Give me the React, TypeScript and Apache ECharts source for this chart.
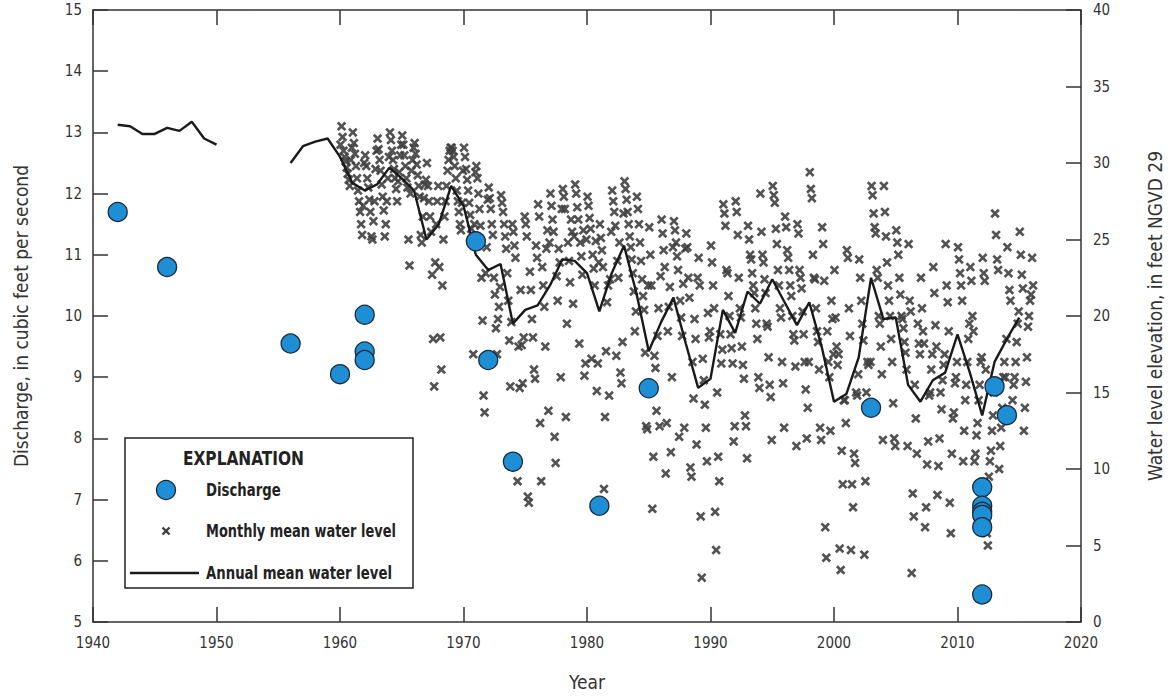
import React, { useEffect, useRef } from "react";
import * as echarts from "echarts";

// ---------- Data ----------
// Discharge measurements (cubic feet per second), left axis
const dischargeYears = [1942, 1946, 1956, 1960, 1962, 1962, 1962, 1971, 1972, 1974, 1981, 1985, 2003, 2012, 2012, 2012, 2012, 2012, 2012, 2013, 2014];
const dischargeValues = [11.7, 10.8, 9.55, 9.05, 10.02, 9.42, 9.28, 11.22, 9.28, 7.62, 6.9, 8.82, 8.5, 7.2, 6.9, 6.8, 6.75, 6.55, 5.45, 8.85, 8.38];

// Annual mean water level (feet NGVD 29), right axis
const annualYearsEarly = [1942, 1943, 1944, 1945, 1946, 1947, 1948, 1949, 1950];
const annualLevelsEarly = [32.5, 32.4, 31.9, 31.9, 32.3, 32.1, 32.7, 31.6, 31.2];
const annualYearsLate = [
  1956, 1957, 1958, 1959, 1960, 1961, 1962, 1963, 1964, 1965, 1966, 1967, 1968, 1969,
  1970, 1971, 1972, 1973, 1974, 1975, 1976, 1977, 1978, 1979, 1980, 1981, 1982, 1983,
  1984, 1985, 1986, 1987, 1988, 1989, 1990, 1991, 1992, 1993, 1994, 1995, 1996, 1997,
  1998, 1999, 2000, 2001, 2002, 2003, 2004, 2005, 2006, 2007, 2008, 2009, 2010, 2011,
  2012, 2013, 2014, 2015,
];
const annualLevelsLate = [
  30.0, 31.1, 31.4, 31.6, 30.4, 28.7, 28.2, 28.6, 29.7, 29.0, 28.2, 25.0, 26.0, 28.5,
  27.2, 24.0, 23.0, 23.4, 19.5, 20.4, 20.7, 22.0, 23.7, 23.6, 22.8, 20.3, 22.8, 24.6,
  21.5, 17.7, 19.6, 21.2, 18.2, 15.3, 15.9, 20.4, 18.9, 21.6, 20.8, 22.4, 20.9, 19.4,
  20.9, 18.0, 14.4, 14.9, 17.3, 22.5, 19.8, 19.9, 15.5, 14.4, 15.8, 16.3, 18.8, 16.3,
  13.5, 17.0, 18.5, 19.9,
];

// Monthly mean water level (feet NGVD 29), one row per year, Jan..Dec
const monthly1960s = [
  [31.2, 32.4, 31.7, 30.8, 30.4, 30.1, 29.7, 29.3, 28.9, 28.5, 30.2, 31.0],
  [32.0, 31.3, 30.6, 29.8, 29.0, 28.2, 27.5, 26.8, 26.0, 25.3, 27.2, 30.0],
  [30.5, 29.8, 29.0, 28.4, 27.6, 26.8, 25.2, 25.0, 26.2, 27.5, 29.6, 30.8],
  [31.6, 30.9, 30.2, 29.5, 28.6, 27.8, 26.9, 25.2, 26.0, 27.5, 29.0, 30.4],
  [32.0, 31.5, 30.8, 30.2, 29.6, 29.0, 28.3, 27.5, 28.8, 29.4, 30.5, 31.2],
  [31.8, 31.2, 30.5, 29.8, 29.0, 28.4, 25.0, 23.3, 28.0, 29.5, 30.2, 31.0],
  [31.3, 30.6, 29.9, 29.2, 28.5, 27.8, 25.3, 24.8, 26.5, 27.7, 28.6, 28.9],
  [30.0, 28.5, 27.5, 26.5, 25.5, 22.7, 18.5, 15.4, 23.5, 26.0, 27.5, 28.5],
  [23.2, 18.6, 16.5, 22.0, 25.0, 26.5, 27.5, 28.5, 29.5, 30.2, 30.8, 31.0],
  [31.0, 30.8, 30.4, 29.8, 29.0, 28.2, 27.5, 26.8, 26.0, 25.6, 27.4, 29.5],
];
const monthly1970s = [
  [31.0, 30.4, 29.6, 28.9, 28.2, 27.4, 26.6, 25.7, 24.9, 17.5, 26.0, 29.4],
  [29.8, 29.0, 28.0, 27.0, 25.9, 22.5, 19.7, 14.8, 13.7, 22.8, 24.5, 27.6],
  [28.4, 27.7, 27.0, 26.0, 25.3, 22.5, 21.4, 19.2, 17.5, 19.8, 20.6, 21.9],
  [27.9, 27.4, 26.8, 26.0, 25.2, 24.4, 22.8, 21.0, 18.4, 15.4, 19.6, 26.0],
  [25.5, 24.6, 23.8, 10.4, 9.2, 18.0, 15.3, 21.7, 18.1, 15.6, 18.6, 26.5],
  [26.0, 25.2, 8.2, 7.8, 22.9, 21.7, 19.8, 18.6, 16.5, 15.9, 24.6, 23.8],
  [27.3, 26.5, 13.0, 9.2, 23.2, 22.0, 20.6, 18.0, 24.4, 25.6, 13.8, 24.8],
  [28.0, 27.2, 26.3, 25.5, 12.1, 10.4, 22.6, 21.0, 24.4, 23.5, 16.0, 27.0],
  [28.3, 27.8, 27.0, 13.4, 19.5, 24.8, 23.6, 22.2, 26.3, 25.5, 20.8, 25.2],
  [28.6, 28.0, 27.1, 26.3, 18.2, 24.8, 23.9, 22.7, 25.6, 16.1, 16.9, 25.0],
];
const monthly1980s = [
  [27.8, 27.2, 26.4, 25.7, 17.2, 24.0, 23.1, 22.0, 24.9, 15.1, 16.9, 23.5],
  [26.0, 25.1, 24.3, 23.2, 8.7, 13.4, 17.7, 20.9, 22.0, 14.8, 22.4, 25.5],
  [28.2, 27.5, 26.8, 25.9, 17.4, 23.6, 22.5, 24.8, 16.3, 15.6, 18.3, 26.7],
  [28.8, 28.3, 27.6, 26.8, 26.0, 25.2, 24.5, 23.7, 22.8, 21.6, 19.0, 20.3],
  [27.8, 27.0, 26.0, 24.8, 23.6, 22.4, 21.3, 20.4, 17.6, 12.8, 12.6, 22.0],
  [25.8, 24.0, 22.0, 7.4, 10.8, 17.4, 16.6, 13.8, 18.7, 20.5, 12.8, 22.6],
  [26.3, 25.4, 24.3, 23.2, 9.7, 13.0, 19.0, 20.6, 21.9, 11.1, 16.0, 24.5],
  [26.2, 25.6, 24.8, 23.9, 23.0, 12.1, 21.0, 19.9, 18.7, 22.1, 12.7, 24.4],
  [25.4, 24.5, 22.5, 21.2, 10.1, 9.5, 17.0, 14.6, 19.8, 18.5, 11.6, 22.5],
  [23.8, 22.0, 6.9, 2.9, 17.2, 15.8, 14.2, 12.7, 10.5, 20.2, 18.6, 19.0],
];
const monthly1990s = [
  [24.6, 23.5, 22.0, 20.5, 7.2, 4.7, 15.0, 10.8, 9.2, 18.8, 16.9, 17.8],
  [27.3, 26.7, 25.9, 23.0, 22.8, 21.3, 20.0, 18.8, 17.9, 16.9, 11.8, 12.8],
  [27.5, 26.8, 25.3, 22.5, 20.5, 19.9, 18.0, 16.8, 15.9, 13.5, 12.8, 10.7],
  [25.9, 25.0, 24.0, 23.7, 22.8, 22.0, 21.5, 20.5, 19.5, 18.5, 16.0, 15.3],
  [28.0, 25.5, 24.0, 23.5, 22.4, 21.5, 19.5, 19.3, 17.3, 15.5, 14.7, 11.9],
  [28.5, 27.9, 27.4, 25.7, 24.7, 23.0, 22.0, 20.5, 19.9, 17.0, 15.6, 12.7],
  [26.5, 25.8, 24.3, 23.8, 23.0, 22.0, 21.3, 20.0, 18.8, 18.4, 16.7, 11.5],
  [26.0, 25.4, 23.0, 22.5, 21.8, 20.3, 18.8, 17.0, 15.2, 12.0, 14.0, 17.0],
  [29.4, 28.3, 27.7, 24.0, 22.5, 22.4, 20.5, 19.0, 18.3, 16.5, 12.7, 11.9],
  [25.8, 24.7, 22.3, 6.2, 4.2, 19.0, 17.0, 16.0, 12.5, 21.0, 19.8, 17.5],
];
const monthly2000s = [
  [23.0, 19.9, 18.0, 16.8, 17.5, 4.8, 3.4, 11.2, 9.0, 14.5, 14.5, 13.0],
  [24.3, 23.8, 20.5, 18.7, 4.7, 9.0, 7.5, 11.0, 10.4, 15.0, 14.8, 16.2],
  [23.7, 22.5, 21.0, 19.5, 18.4, 4.4, 9.2, 15.0, 17.0, 16.8, 14.0, 17.0],
  [28.5, 27.9, 26.7, 25.8, 25.4, 23.0, 22.5, 20.0, 19.5, 18.0, 16.2, 11.9],
  [28.5, 26.8, 25.2, 23.5, 22.0, 21.0, 20.0, 18.5, 17.0, 14.3, 12.0, 11.5],
  [25.6, 24.8, 24.0, 22.5, 21.4, 20.0, 19.8, 19.2, 18.3, 17.6, 16.5, 11.5],
  [24.7, 21.0, 20.3, 3.2, 8.4, 6.9, 15.5, 13.3, 11.0, 19.5, 18.2, 17.5],
  [22.5, 20.5, 19.0, 18.2, 6.2, 7.5, 10.3, 11.8, 14.8, 15.0, 16.5, 17.5],
  [23.2, 21.5, 19.4, 18.0, 8.3, 10.2, 12.0, 15.0, 13.9, 15.8, 16.8, 17.5],
  [24.7, 22.0, 20.9, 19.0, 7.8, 5.8, 11.0, 13.3, 13.7, 15.6, 16.0, 17.0],
];
const monthly2010s = [
  [24.5, 23.7, 22.8, 22.0, 21.0, 10.5, 12.5, 14.5, 15.5, 17.0, 18.5, 19.5],
  [23.2, 22.3, 20.0, 19.0, 10.5, 11.0, 12.2, 13.0, 14.5, 15.5, 17.0, 17.3],
  [23.8, 22.8, 22.3, 16.5, 5.8, 5.0, 9.5, 10.5, 11.2, 12.5, 13.5, 15.0],
  [26.7, 25.3, 23.7, 23.0, 10.0, 11.5, 12.7, 14.0, 16.0, 17.0, 16.0, 18.5],
  [24.5, 22.8, 21.7, 21.0, 13.5, 14.5, 15.5, 16.0, 17.0, 18.3, 19.5, 20.3],
  [25.5, 24.0, 22.7, 21.8, 12.5, 14.0, 15.7, 17.3, 19.3, 20.0, 21.0, 21.4],
  [23.8, 22.0],
];
const monthlyDecades = [monthly1960s, monthly1970s, monthly1980s, monthly1990s, monthly2000s, monthly2010s];
const monthlyStartYears = [1960, 1970, 1980, 1990, 2000, 2010];

// Axis ticks
const xTicks = { min: 1940, max: 2020, interval: 10 };
const leftTicks = { min: 5, max: 15, interval: 1 };
const rightTicks = { min: 0, max: 40, interval: 5 };

// ---------- Styles ----------
const FONT = "'DejaVu Sans Condensed', 'Liberation Sans Narrow', sans-serif";
const AXIS_COLOR = "#333";
const TEXT_COLOR = "#333";
const BLUE = "#1e8fd5";
const X_COLOR = "#404040";
const X_PATH = "path://M0,2 L2,0 L5,3 L8,0 L10,2 L7,5 L10,8 L8,10 L5,7 L2,10 L0,8 L3,5 Z";

export default function App() {
  const ref = useRef<HTMLDivElement>(null);

  useEffect(() => {
    if (!ref.current) return;
    const chart = echarts.init(ref.current, undefined, { renderer: "svg" });

    const monthlyData: number[][] = [];
    monthlyDecades.forEach((dec, d) => {
      dec.forEach((row, i) => {
        row.forEach((v, m) => {
          monthlyData.push([monthlyStartYears[d] + i + (m + 0.5) / 12, v]);
        });
      });
    });

    const annualData: any[] = [];
    annualYearsEarly.forEach((y, i) => annualData.push([y, annualLevelsEarly[i]]));
    annualData.push([1953, "-"]);
    annualYearsLate.forEach((y, i) => annualData.push([y, annualLevelsLate[i]]));

    const dischargeData = dischargeYears.map((y, i) => [y, dischargeValues[i]]);

    const lineStyle = { color: AXIS_COLOR, width: 1.5 };
    const labelStyle = { fontFamily: FONT, fontSize: 15, color: TEXT_COLOR };
    const nameStyle = { fontFamily: FONT, fontSize: 19, color: TEXT_COLOR };
    const legendText = { fontFamily: FONT, fontSize: 18, fontWeight: "bold", fill: "#222", verticalAlign: "middle" };

    const option: any = {
      animation: false,
      backgroundColor: "#fff",
      grid: { left: 93, right: 84, top: 10, bottom: 73, containLabel: false },
      xAxis: [
        {
          type: "value",
          position: "bottom",
          ...xTicks,
          name: "Year",
          nameLocation: "middle",
          nameGap: 50,
          nameTextStyle: nameStyle,
          axisLine: { show: true, onZero: false, lineStyle },
          axisTick: { show: true, inside: true, length: 15, lineStyle },
          axisLabel: { ...labelStyle, margin: 13, formatter: (v: number) => String(v) },
          splitLine: { show: false },
        },
        {
          type: "value",
          position: "top",
          ...xTicks,
          axisLine: { show: true, onZero: false, lineStyle },
          axisTick: { show: true, inside: true, length: 15, lineStyle },
          axisLabel: { show: false },
          splitLine: { show: false },
        },
      ],
      yAxis: [
        {
          type: "value",
          position: "left",
          ...leftTicks,
          name: "Discharge, in cubic feet per second",
          nameLocation: "middle",
          nameGap: 63,
          nameTextStyle: nameStyle,
          axisLine: { show: true, onZero: false, lineStyle },
          axisTick: { show: true, inside: true, length: 15, lineStyle },
          axisLabel: { ...labelStyle, margin: 11 },
          splitLine: { show: false },
        },
        {
          type: "value",
          position: "right",
          ...rightTicks,
          name: "Water level elevation, in feet NGVD 29",
          nameLocation: "middle",
          nameGap: 64,
          nameTextStyle: nameStyle,
          axisLine: { show: true, onZero: false, lineStyle },
          axisTick: { show: true, inside: true, length: 15, lineStyle },
          axisLabel: { ...labelStyle, margin: 12 },
          splitLine: { show: false },
        },
      ],
      series: [
        {
          name: "Monthly mean water level",
          type: "scatter",
          xAxisIndex: 0,
          yAxisIndex: 1,
          data: monthlyData,
          symbol: X_PATH,
          symbolSize: 9.5,
          itemStyle: { color: X_COLOR, opacity: 0.9 },
          z: 2,
        },
        {
          name: "Annual mean water level",
          type: "line",
          xAxisIndex: 0,
          yAxisIndex: 1,
          data: annualData,
          showSymbol: false,
          symbol: "none",
          connectNulls: false,
          lineStyle: { color: "#1a1a1a", width: 2.4 },
          z: 3,
        },
        {
          name: "Discharge",
          type: "scatter",
          xAxisIndex: 0,
          yAxisIndex: 0,
          data: dischargeData,
          symbol: "circle",
          symbolSize: 19,
          itemStyle: { color: BLUE, borderColor: "#1b2b3d", borderWidth: 1.3, opacity: 1 },
          z: 4,
        },
      ],
      graphic: [
        {
          type: "group",
          z: 100,
          children: [
            {
              type: "rect",
              shape: { x: 125, y: 438, width: 288, height: 150 },
              style: { fill: "#fff", stroke: "#222", lineWidth: 1.5 },
            },
            {
              type: "text",
              x: 183,
              y: 458,
              scaleX: 0.9,
              style: { ...legendText, text: "EXPLANATION", fontSize: 19 },
            },
            {
              type: "circle",
              shape: { cx: 166, cy: 490, r: 9.5 },
              style: { fill: BLUE, stroke: "#1b2b3d", lineWidth: 1.3 },
            },
            {
              type: "text",
              x: 206,
              y: 490,
              scaleX: 0.82,
              style: { ...legendText, text: "Discharge" },
            },
            {
              type: "line",
              shape: { x1: 162.5, y1: 527.5, x2: 169.5, y2: 534.5 },
              style: { stroke: X_COLOR, lineWidth: 2.4 },
            },
            {
              type: "line",
              shape: { x1: 169.5, y1: 527.5, x2: 162.5, y2: 534.5 },
              style: { stroke: X_COLOR, lineWidth: 2.4 },
            },
            {
              type: "text",
              x: 206,
              y: 531,
              scaleX: 0.8,
              style: { ...legendText, text: "Monthly mean water level" },
            },
            {
              type: "line",
              shape: { x1: 130, y1: 573, x2: 199, y2: 573 },
              style: { stroke: "#1a1a1a", lineWidth: 2.4 },
            },
            {
              type: "text",
              x: 206,
              y: 573,
              scaleX: 0.82,
              style: { ...legendText, text: "Annual mean water level" },
            },
          ],
        },
      ],
    };

    chart.setOption(option);
    return () => {
      chart.dispose();
    };
  }, []);

  return (
    <div
      ref={ref}
      style={{ position: "fixed", left: 0, top: 0, width: 1172, height: 696, background: "#fff" }}
    />
  );
}
